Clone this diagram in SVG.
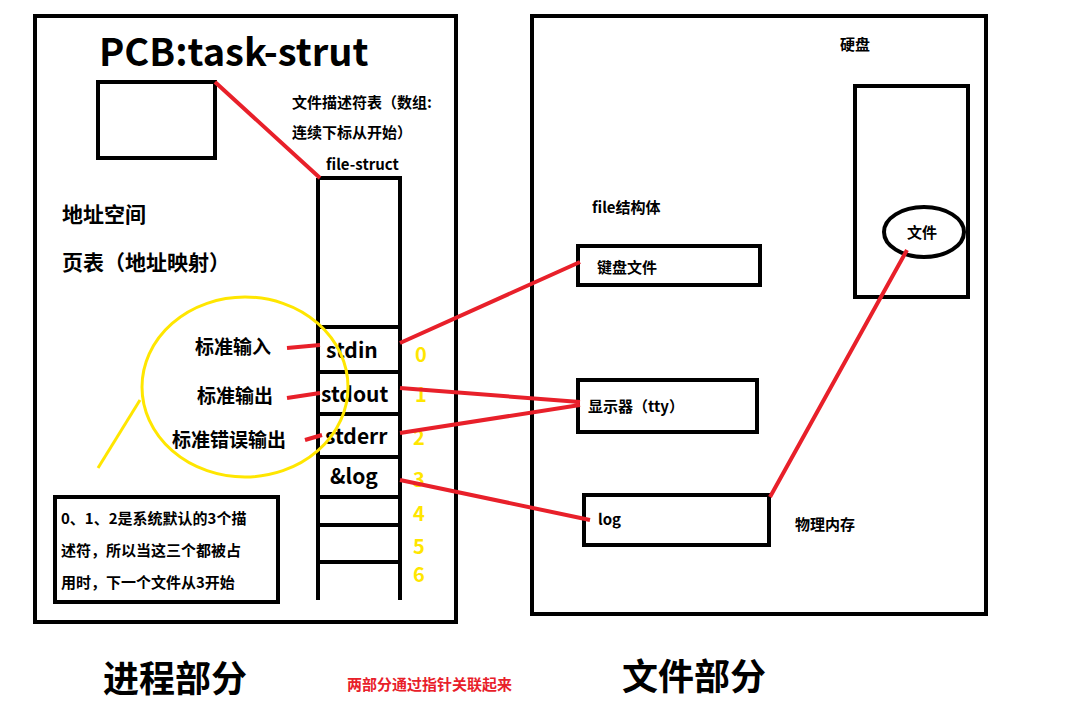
<svg xmlns="http://www.w3.org/2000/svg" width="1067" height="709" viewBox="0 0 1067 709">
<style>
.b{fill:none;stroke:#000;stroke-width:4}
.r{stroke:#e8202a;stroke-width:4;fill:none}
text{font-family:"Noto Sans CJK SC","Noto Sans",sans-serif;font-weight:bold;fill:#000}
.s{font-size:15px}.m{font-size:21px}.y{fill:#ffe600;font-size:20px}
</style>
<rect width="1067" height="709" fill="#fff"/>
<g id="process">
<rect class="b" x="35" y="16" width="421" height="606"/>
<text x="99" y="66" style="font-size:38px">PCB:task-strut</text>
<rect class="b" x="98" y="82" width="117" height="76"/>
<text class="m" x="62" y="222">地址空间</text>
<text class="m" x="62" y="270">页表（地址映射）</text>
<text class="s" x="292" y="108">文件描述符表（数组:</text>
<text class="s" x="292" y="138">连续下标从开始）</text>
<text class="s" x="326" y="170">file-struct</text>
</g>
<g id="fdtable">
<path class="b" d="M318 178H400V600M318 178V600M318 327H400M318 372H400M318 414H400M318 457H400M318 497H400M318 525H400M318 562H400"/>
<text class="m" x="326" y="358">stdin</text>
<text class="m" x="321" y="402">stdout</text>
<text class="m" x="325" y="444">stderr</text>
<text class="m" x="330" y="484">&amp;log</text>
<text class="y" x="415" y="362">0</text><text class="y" x="415" y="402">1</text><text class="y" x="413" y="445">2</text><text class="y" x="413" y="487">3</text><text class="y" x="413" y="521">4</text><text class="y" x="413" y="554">5</text><text class="y" x="413" y="582">6</text>
</g>
<g id="std">
<ellipse cx="245" cy="387" rx="103" ry="90" fill="none" stroke="#ffe600" stroke-width="3"/>
<line x1="140" y1="400" x2="98" y2="468" stroke="#ffe600" stroke-width="3"/>
<text class="m" x="195" y="354" style="font-size:19px">标准输入</text>
<text class="m" x="197" y="403" style="font-size:19px">标准输出</text>
<text class="m" x="172" y="447" style="font-size:19px">标准错误输出</text>
</g>
<g id="note">
<rect class="b" x="55" y="497" width="223" height="105" stroke-width="3"/>
<text class="s" x="61" y="524">0、1、2是系统默认的3个描</text>
<text class="s" x="61" y="556">述符，所以当这三个都被占</text>
<text class="s" x="61" y="588">用时，下一个文件从3开始</text>
</g>
<g id="files">
<rect class="b" x="532" y="16" width="454" height="598"/>
<text class="s" x="840" y="50">硬盘</text>
<rect class="b" x="855" y="86" width="113" height="211"/>
<ellipse cx="924" cy="232" rx="40" ry="25" fill="none" stroke="#000" stroke-width="4"/>
<text class="s" x="907" y="238">文件</text>
<text class="s" x="592" y="213">file结构体</text>
<rect class="b" x="578" y="246" width="182" height="39"/>
<text class="s" x="597" y="273">键盘文件</text>
<rect class="b" x="578" y="380" width="179" height="52"/>
<text class="s" x="588" y="412">显示器（tty）</text>
<rect class="b" x="584" y="495" width="185" height="50"/>
<text class="s" x="598" y="525">log</text>
<text class="s" x="795" y="530">物理内存</text>
</g>
<g id="connectors">
<path class="r" d="M215 82L320 178M287 348L320 345M287 398L320 393M305 440L322 435M400 343L580 262M400 388L580 402M400 433L580 405M400 480L590 520M770 497L907 250"/>
</g>
<g id="footer">
<text x="103" y="692" style="font-size:36px">进程部分</text>
<text x="347" y="690" style="font-size:15px;fill:#e8202a">两部分通过指针关联起来</text>
<text x="622" y="690" style="font-size:36px">文件部分</text>
</g>
</svg>
